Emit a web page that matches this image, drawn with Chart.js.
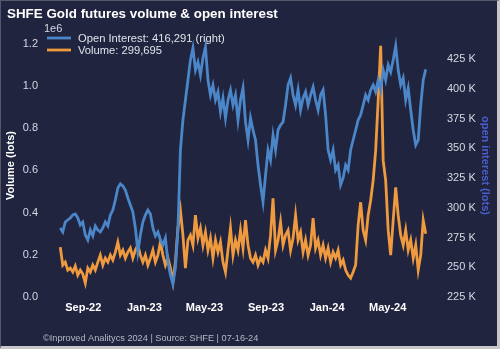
<!DOCTYPE html>
<html>
<head>
<meta charset="utf-8">
<script src="https://cdn.jsdelivr.net/npm/chart.js@4.4.1/dist/chart.umd.min.js"></script>
<style>
  html, body { margin: 0; padding: 0; background: #20243f; }
  #wrap { position: relative; width: 500px; height: 349px; background: #20243f; }
  #frame { position: absolute; left: 0; top: 0; width: 500px; height: 349px; box-sizing: border-box;
           border-left: 1px solid #55586a; border-top: 1px solid #55586a;
           border-right: 3px solid #c8c8cc; border-bottom: 3px solid #c8c8cc; pointer-events: none; }
</style>
</head>
<body>
<div id="wrap">
  <canvas id="c" width="500" height="349"></canvas>
  <div id="frame"></div>
</div>
<script>
const titleText = 'SHFE Gold futures volume & open interest';
const footerText = '\u00a9Inproved Analitycs 2024 | Source: SHFE | 07-16-24';

const dates = [
 '2022-07-17','2022-07-22','2022-07-27','2022-08-01','2022-08-06','2022-08-11','2022-08-16','2022-08-21','2022-08-26','2022-08-31',
 '2022-09-05','2022-09-10','2022-09-15','2022-09-20','2022-09-25','2022-09-30','2022-10-05','2022-10-10','2022-10-15','2022-10-20',
 '2022-10-25','2022-10-30','2022-11-04','2022-11-09','2022-11-14','2022-11-19','2022-11-24','2022-11-29','2022-12-04','2022-12-09',
 '2022-12-14','2022-12-19','2022-12-24','2022-12-29','2023-01-03','2023-01-08','2023-01-13','2023-01-18','2023-01-23','2023-01-28',
 '2023-02-02','2023-02-07','2023-02-12','2023-02-17','2023-02-22','2023-02-27','2023-03-04','2023-03-09','2023-03-14','2023-03-19',
 '2023-03-24','2023-03-29','2023-04-03','2023-04-08','2023-04-13','2023-04-18','2023-04-23','2023-04-28','2023-05-03','2023-05-08',
 '2023-05-13','2023-05-18','2023-05-23','2023-05-28','2023-06-02','2023-06-07','2023-06-12','2023-06-17','2023-06-22','2023-06-27',
 '2023-07-02','2023-07-07','2023-07-12','2023-07-17','2023-07-22','2023-07-27','2023-08-01','2023-08-06','2023-08-11','2023-08-16',
 '2023-08-21','2023-08-26','2023-08-31','2023-09-05','2023-09-10','2023-09-15','2023-09-20','2023-09-25','2023-09-30','2023-10-05',
 '2023-10-10','2023-10-15','2023-10-20','2023-10-25','2023-10-30','2023-11-04','2023-11-09','2023-11-14','2023-11-19','2023-11-24',
 '2023-11-29','2023-12-04','2023-12-09','2023-12-14','2023-12-19','2023-12-24','2023-12-29','2024-01-03','2024-01-08','2024-01-13',
 '2024-01-18','2024-01-23','2024-01-28','2024-02-02','2024-02-07','2024-02-12','2024-02-17','2024-02-22','2024-02-27','2024-03-03',
 '2024-03-08','2024-03-13','2024-03-18','2024-03-23','2024-03-28','2024-04-02','2024-04-07','2024-04-12','2024-04-17','2024-04-22',
 '2024-04-27','2024-05-02','2024-05-07','2024-05-12','2024-05-17','2024-05-22','2024-05-27','2024-06-01','2024-06-06','2024-06-11',
 '2024-06-16','2024-06-21','2024-06-26','2024-07-01','2024-07-06','2024-07-11','2024-07-16'
];

const openInterest = [
 283000,279600,288000,289700,291400,293900,294700,291400,285500,288000,
 277100,272900,281300,276300,284700,281300,279600,283000,288000,284700,
 293900,298100,306500,316600,320000,318300,314900,308200,302300,296400,
 283000,262800,277100,288000,293900,298100,294700,283000,276300,279600,
 272900,268700,274600,254400,243500,235900,249400,281300,348500,373700,
 390500,407300,424200,434200,415700,422500,411500,425800,435100,407300,
 394700,403100,390500,397300,380500,392200,375400,390500,398900,386300,
 394700,373700,390500,400600,372100,356900,375400,365300,356900,335900,
 319100,304800,327500,348500,340100,361100,348500,365300,369500,372100,
 386300,403100,409000,394700,386300,398900,382100,392200,397300,386300,
 394700,401500,390500,382100,394700,398900,377900,348500,340100,348500,
 331700,335900,319100,325000,335900,331700,348500,356900,365300,373700,
 377900,386300,394700,390500,398900,403100,397300,407300,398900,415700,
 407300,419900,414100,424200,435900,415700,403100,409000,390500,400600,
 382100,365300,352700,356900,386300,407300,416291
];

const volume = [
 236200,151200,165300,127500,137000,118100,146400,103900,127500,108700,
 66100,137000,118100,151200,127500,165300,198400,151200,184200,165300,
 198400,174800,212600,259800,198400,222000,184200,212600,231500,184200,
 222000,245600,198400,165300,198400,151200,184200,222000,165300,198400,
 259800,198400,151200,184200,137000,70900,165300,326000,411000,292900,
 137000,269300,292900,245600,387400,278700,326000,245600,307100,222000,
 278700,184200,269300,212600,259800,165300,118100,222000,326000,198400,
 269300,222000,316500,231500,363700,245600,184200,165300,198400,151200,
 184200,165300,222000,184200,292900,467700,222000,269300,354300,245600,
 292900,316500,222000,278700,387400,269300,307100,212600,269300,198400,
 245600,373200,231500,269300,198400,245600,184200,231500,165300,212600,
 184200,222000,151200,174800,127500,103900,89800,118100,151200,340100,
 448800,316500,269300,387400,458200,552700,694400,930600,1190400,647200,
 552700,316500,198400,363700,519600,387400,292900,245600,316500,222000,
 269300,184200,245600,127500,198400,363700,299695
];

const xTickDates = ['2022-09-01','2023-01-01','2023-05-01','2023-09-01','2024-01-01','2024-05-01'];
const xTickLabels = ['Sep-22','Jan-23','May-23','Sep-23','Jan-24','May-24'];
const leftTicks = [0, 200000, 400000, 600000, 800000, 1000000, 1200000];
const rightTicks = [225000, 250000, 275000, 300000, 325000, 350000, 375000, 400000, 425000];

const BASE = Date.UTC(2022, 6, 1);
const dayOf = s => (Date.parse(s + 'T00:00:00Z') - BASE) / 86400000;
const fmt = n => n.toLocaleString('en-US');

const oiPts = dates.map((d, i) => ({ x: dayOf(d), y: openInterest[i] }));
const volPts = dates.map((d, i) => ({ x: dayOf(d), y: volume[i] }));

const BLUE = '#4a86c8';
const ORANGE = '#ef9a3e';
const FONT = '"Liberation Sans", Arial, sans-serif';

const overlay = {
  id: 'overlay',
  afterDraw(chart) {
    const ctx = chart.ctx;
    ctx.save();
    ctx.textBaseline = 'alphabetic';
    ctx.textAlign = 'left';
    ctx.fillStyle = '#ffffff';
    ctx.font = 'bold 13.4px ' + FONT;
    ctx.fillText(titleText, 7, 18);
    ctx.fillStyle = '#b6b8c6';
    ctx.font = '9.2px ' + FONT;
    ctx.fillText(footerText, 43, 341);
    ctx.fillStyle = '#d6d8e2';
    ctx.font = '11px ' + FONT;
    ctx.fillText('1e6', 44, 32);
    chart.data.datasets.forEach((ds, i) => {
      const y = 38 + 12 * i;
      ctx.strokeStyle = ds.borderColor;
      ctx.lineWidth = 2.8;
      ctx.beginPath();
      ctx.moveTo(47, y);
      ctx.lineTo(71, y);
      ctx.stroke();
      ctx.fillStyle = '#e2e3ea';
      ctx.font = '11.2px ' + FONT;
      ctx.fillText(ds.label, 78, y + 4);
    });
    ctx.restore();
  }
};

new Chart(document.getElementById('c'), {
  type: 'line',
  data: {
    datasets: [
      { label: 'Open Interest: ' + fmt(openInterest[openInterest.length - 1]) + ' (right)', data: oiPts,
        yAxisID: 'yR', borderColor: BLUE, borderWidth: 2.8, pointRadius: 0, tension: 0, order: 0 },
      { label: 'Volume: ' + fmt(volume[volume.length - 1]), data: volPts,
        yAxisID: 'yL', borderColor: ORANGE, borderWidth: 2.8, pointRadius: 0, tension: 0, order: 1 }
    ]
  },
  options: {
    responsive: false,
    animation: false,
    layout: { padding: { top: 34, left: 0, right: 0, bottom: 0 } },
    plugins: { legend: { display: false }, tooltip: { enabled: false } },
    scales: {
      x: {
        type: 'linear', min: -20.5, max: 782.5,
        grid: { display: false, drawTicks: false }, border: { display: false },
        afterBuildTicks: s => { s.ticks = xTickDates.map(d => ({ value: dayOf(d) })); },
        ticks: { autoSkip: false, maxRotation: 0, padding: 4, color: '#ffffff',
                 font: { family: FONT, size: 11, weight: 'bold' },
                 callback: (v, i) => xTickLabels[i] },
        afterFit: s => { s.height = 52; }
      },
      yL: {
        position: 'left', min: 0, max: 1246000,
        grid: { display: false, drawTicks: false }, border: { display: false },
        afterBuildTicks: s => { s.ticks = leftTicks.map(v => ({ value: v })); },
        ticks: { padding: 4, color: '#d6d8e2', font: { family: FONT, size: 11 },
                 callback: v => (v / 1e6).toFixed(1) },
        title: { display: true, text: 'Volume (lots)', color: '#ffffff',
                 font: { family: FONT, size: 11, weight: 'bold' }, padding: { top: 4, bottom: 0 } },
        afterFit: s => { s.width = 42; }
      },
      yR: {
        position: 'right', min: 225000, max: 446000,
        grid: { display: false, drawTicks: false }, border: { display: false },
        afterBuildTicks: s => { s.ticks = rightTicks.map(v => ({ value: v })); },
        ticks: { padding: 3, color: '#d6d8e2', font: { family: FONT, size: 11 },
                 callback: v => (v / 1000) + ' K' },
        title: { display: true, text: 'open interest (lots)', color: '#4c5fcf',
                 font: { family: FONT, size: 11, weight: 'bold' }, padding: { top: 8, bottom: 0 } },
        afterFit: s => { s.width = 56; }
      }
    }
  },
  plugins: [overlay]
});
</script>
</body>
</html>
